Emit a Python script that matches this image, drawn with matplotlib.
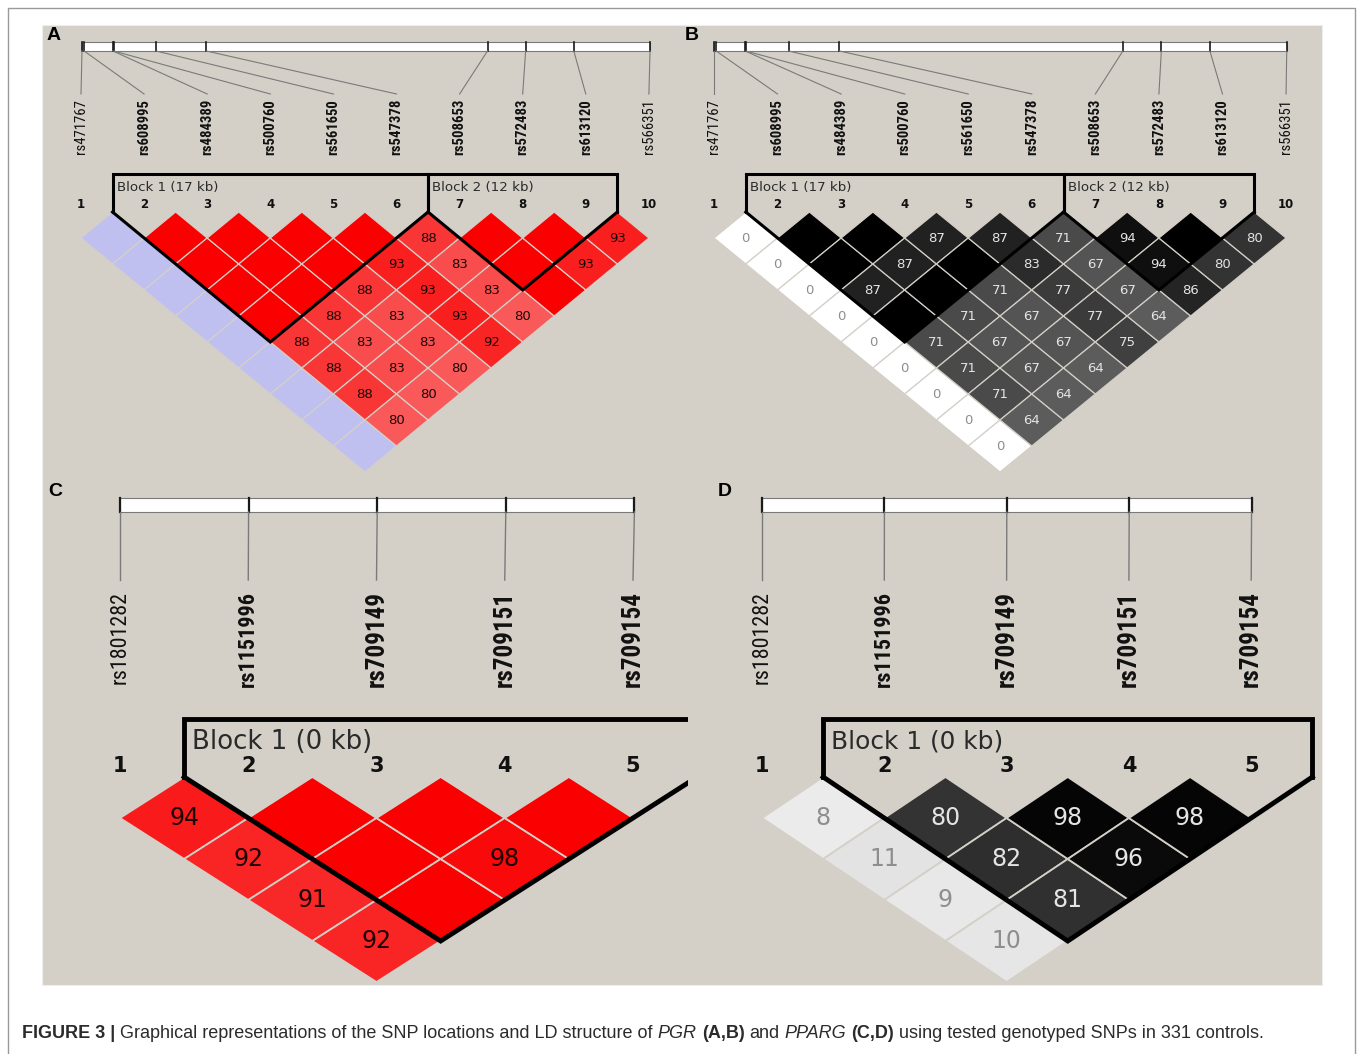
import matplotlib
matplotlib.use('Agg')
import matplotlib.pyplot as plt
from matplotlib.patches import Polygon, Rectangle

# ---- PGR (panels A and B) ----
pgr_snps = ['rs471767', 'rs608995', 'rs484389', 'rs500760', 'rs561650',
            'rs547378', 'rs508653', 'rs572483', 'rs613120', 'rs566351']
pgr_pos_kb = [0.0, 0.3, 4.3, 4.4, 10.3, 17.3, 56.4, 61.7, 68.4, 79.0]
pgr_in_block = [False, True, True, True, True, True, True, True, True, False]
pgr_blocks = [(2, 6, 'Block 1 (17 kb)'), (7, 9, 'Block 2 (12 kb)')]

# D' x100, row i holds SNP i against SNP i+1 .. n (100 = complete LD, no number)
pgr_dprime = [
    [100, 100, 100, 100, 100, 100, 100, 100, 100],
    [100, 100, 100, 100, 88, 88, 88, 80],
    [100, 100, 100, 88, 83, 83, 80],
    [100, 100, 88, 83, 83, 80],
    [100, 93, 93, 93, 92],
    [88, 83, 83, 80],
    [100, 100, 100],
    [100, 93],
    [93],
]
# pairs with D'=1 but LOD < 2 (drawn in blue)
pgr_low_lod = [(1, 2), (1, 3), (1, 4), (1, 5), (1, 6), (1, 7), (1, 8), (1, 9), (1, 10)]

# r^2 x100
pgr_r2 = [
    [0, 0, 0, 0, 0, 0, 0, 0, 0],
    [100, 100, 87, 100, 71, 71, 71, 64],
    [100, 87, 100, 71, 67, 67, 64],
    [87, 100, 71, 67, 67, 64],
    [87, 83, 77, 77, 75],
    [71, 67, 67, 64],
    [94, 94, 86],
    [100, 80],
    [80],
]

# ---- PPARG (panels C and D) ----
pparg_snps = ['rs1801282', 'rs1151996', 'rs709149', 'rs709151', 'rs709154']
pparg_pos = [0, 1, 2, 3, 4]
pparg_in_block = [False, True, True, True, True]
pparg_blocks = [(2, 5, 'Block 1 (0 kb)')]
pparg_dprime = [
    [94, 92, 91, 92],
    [100, 100, 100],
    [100, 98],
    [100],
]
pparg_low_lod = []
pparg_r2 = [
    [8, 11, 9, 10],
    [80, 82, 81],
    [98, 96],
    [98],
]

BG = '#d4d0c8'
NARROW = ['Roboto Condensed', 'Liberation Sans Narrow', 'Open Sans Condensed',
          'Noto Sans Condensed', 'Liberation Sans']

small = dict(top=212, hh=26, bar_y=(42, 51), lead_end=94, label_top=99, label_len=56,
             bracket_y=174, block_text_y=188, block_dx=4, block_w=102, label_fs=11.5,
             num_fs=8.5, cell_fs=9.5, block_fs=9.5, block_lw=2.2, grid_lw=0.9,
             lead_lw=0.8, tick_lw=1.2)
big = dict(top=777, hh=41, bar_y=(498, 512), lead_end=580, label_top=591, label_len=96,
           bracket_y=719, block_text_y=742, block_dx=8, block_w=180, label_fs=17.5,
           num_fs=15, cell_fs=17, block_fs=17, block_lw=3.5, grid_lw=1.3,
           lead_lw=1.0, tick_lw=1.6)

fig = plt.figure(figsize=(13.58, 10.54), dpi=100)
ax = fig.add_axes([0, 0, 1, 1])
ax.set_xlim(0, 1358)
ax.set_ylim(1054, 0)
ax.axis('off')
renderer = fig.canvas.get_renderer()


def fit_text(t, length, vertical=False):
    # rescale a text so its long side takes the given number of pixels
    ext = t.get_window_extent(renderer)
    cur = ext.height if vertical else ext.width
    t.set_fontsize(t.get_fontsize() * length / cur)


def dprime_color(v, weak):
    if weak:
        return '#c0c0f0'
    if v >= 100:
        return '#fa0000'
    gb = 2 * (1 - v / 100) * 223 / 255
    return (0.975, gb, gb)


def r2_color(v):
    g = 1 - v / 100
    return (g, g, g)


def draw_panel(snps, pos, in_block, blocks, values, mode, low_lod, g,
               x0, step, bar_x0, bar_scale, clip=None):
    n = len(snps)
    xs = [x0 + i * step for i in range(n)]
    hw = step / 2
    hh = g['hh']
    top = g['top']

    # ruler with physical positions
    b0, b1 = g['bar_y']
    phys = [bar_x0 + p * bar_scale for p in pos]
    ax.add_patch(Rectangle((phys[0], b0), phys[-1] - phys[0], b1 - b0,
                           facecolor='white', edgecolor='#7a7a7a', lw=0.8))
    for px, lx, name, bold in zip(phys, xs, snps, in_block):
        ax.plot([px, px], [b0, b1], color='#1a1a1a', lw=g['tick_lw'])
        ax.plot([px, lx], [b1, g['lead_end']], color='#7a7a7a', lw=g['lead_lw'])
        t = ax.text(lx, g['label_top'], name, rotation=90, ha='center', va='top',
                    fontsize=g['label_fs'], family=NARROW,
                    fontweight='bold' if bold else 'normal', color='#111111')
        fit_text(t, g['label_len'] * (1.0 if bold else 0.97), vertical=True)

    # SNP index numbers
    for i, x in enumerate(xs):
        ax.text(x, top - 1, str(i + 1), ha='center', va='bottom',
                fontsize=g['num_fs'], fontweight='bold', color='#111111')

    # LD cells
    for i in range(n - 1):
        for k, v in enumerate(values[i]):
            j = i + 1 + k
            cx = (xs[i] + xs[j]) / 2
            cy = top + (j - i) * hh
            if mode == 'dprime':
                fc = dprime_color(v, (i + 1, j + 1) in low_lod)
                tc = '#1c0404'
            else:
                fc = r2_color(v)
                tc = '#8e8e8e' if v < 50 else '#e4e4e4'
            ax.add_patch(Polygon([(cx, cy - hh), (cx + hw, cy), (cx, cy + hh), (cx - hw, cy)],
                                 closed=True, facecolor=fc, edgecolor=BG, lw=g['grid_lw']))
            if v < 100:
                ax.text(cx, cy, str(v), ha='center', va='center',
                        fontsize=g['cell_fs'], color=tc)

    # haplotype block outlines
    for a, b, label in blocks:
        left = xs[a - 1] - hw
        right = xs[b - 1] + hw
        vx = (left + right) / 2
        vy = top + (right - left) / 2 * hh / hw
        by = g['bracket_y']
        lines = [
            ax.plot([left, left, right, right], [top, by, by, top],
                    color='black', lw=g['block_lw'], solid_joinstyle='miter')[0],
            ax.plot([left, vx, right], [top, vy, top],
                    color='black', lw=g['block_lw'], solid_joinstyle='miter')[0],
        ]
        if clip is not None:
            for ln in lines:
                ln.set_clip_path(clip)
        t = ax.text(left + g['block_dx'], g['block_text_y'], label, ha='left', va='center',
                    fontsize=g['block_fs'], color='#2a2a2a')
        fit_text(t, g['block_w'] * step / (63.1 if g is small else 128.25))


# outer frame and panel background
ax.plot([8, 8, 1355, 1355], [1054, 8, 8, 1054], color='#9a9a9a', lw=1.0)
ax.add_patch(Rectangle((42, 25), 1280, 960, facecolor=BG, edgecolor='#eeeeee', lw=0.8))

draw_panel(pgr_snps, pgr_pos_kb, pgr_in_block, pgr_blocks, pgr_dprime, 'dprime',
           pgr_low_lod, small, x0=81, step=63.1, bar_x0=82, bar_scale=7.19)
draw_panel(pgr_snps, pgr_pos_kb, pgr_in_block, pgr_blocks, pgr_r2, 'r2',
           [], small, x0=714, step=63.56, bar_x0=714, bar_scale=7.25)

clip_c = Rectangle((42, 25), 646, 960, transform=ax.transData)
draw_panel(pparg_snps, pparg_pos, pparg_in_block, pparg_blocks, pparg_dprime, 'dprime',
           pparg_low_lod, big, x0=120, step=128.25, bar_x0=120, bar_scale=128.6, clip=clip_c)
draw_panel(pparg_snps, pparg_pos, pparg_in_block, pparg_blocks, pparg_r2, 'r2',
           [], big, x0=762, step=122.3, bar_x0=762, bar_scale=122.4)

for letter, x, y in [('A', 47, 35), ('B', 685, 35), ('C', 48, 492), ('D', 718, 492)]:
    ax.text(x, y, letter, ha='left', va='center', fontsize=14, fontweight='bold',
            family='Liberation Sans', color='black')

# caption with mixed weights, fitted to the frame width
parts = [('FIGURE 3 |', 'bold', 'normal'),
         ('Graphical representations of the SNP locations and LD structure of', 'normal', 'normal'),
         ('PGR', 'normal', 'italic'),
         ('(A,B)', 'bold', 'normal'),
         ('and', 'normal', 'normal'),
         ('PPARG', 'normal', 'italic'),
         ('(C,D)', 'bold', 'normal'),
         ('using tested genotyped SNPs in 331 controls.', 'normal', 'normal')]


def place_caption(size, draw=True):
    x = 22
    items = []
    sp = ax.text(0, 0, 'x x', fontsize=size, family='Liberation Sans')
    nsp = ax.text(0, 0, 'xx', fontsize=size, family='Liberation Sans')
    gap = sp.get_window_extent(renderer).width - nsp.get_window_extent(renderer).width
    sp.remove()
    nsp.remove()
    for s, w, st in parts:
        t = ax.text(x, 1033, s, ha='left', va='center', fontsize=size, fontweight=w,
                    fontstyle=st, family='Liberation Sans', color='#2b2b2b')
        x += t.get_window_extent(renderer).width + gap
        items.append(t)
    if not draw:
        for t in items:
            t.remove()
    return x - gap - 22


width = place_caption(12, draw=False)
place_caption(12 * 1245 / width)

fig.savefig('out.png', dpi=100)
